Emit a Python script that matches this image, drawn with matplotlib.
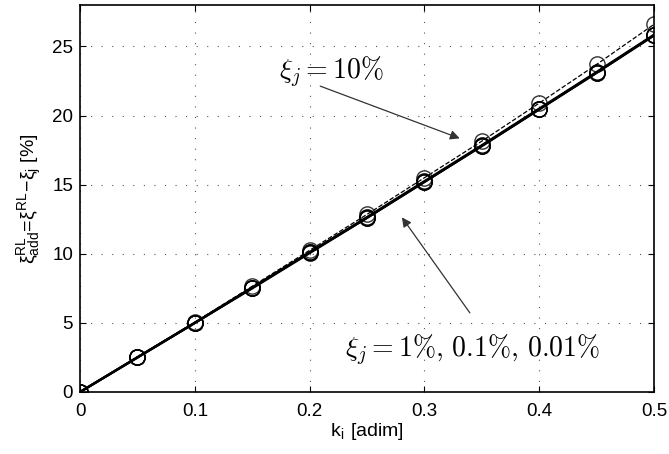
import numpy as np
import matplotlib
matplotlib.use("Agg")
import matplotlib.pyplot as plt

plt.rcParams["font.family"] = ["Liberation Sans", "DejaVu Sans"]
plt.rcParams["mathtext.fontset"] = "cm"

ki = [0, 0.05, 0.1, 0.15, 0.2, 0.25, 0.3, 0.35, 0.4, 0.45, 0.5]
xi_10 = [0, 2.55, 5.05, 7.65, 10.25, 12.85, 15.5, 18.15, 20.9, 23.7, 26.6]
xi_1 = [0, 2.5, 5.0, 7.55, 10.1, 12.65, 15.25, 17.85, 20.5, 23.15, 25.85]
xi_01 = [0, 2.5, 5.0, 7.55, 10.1, 12.6, 15.2, 17.8, 20.45, 23.1, 25.8]
xi_001 = [0, 2.5, 5.0, 7.5, 10.05, 12.6, 15.2, 17.8, 20.45, 23.1, 25.8]

fig = plt.figure(figsize=(6.69, 4.54), dpi=100)
ax = fig.add_axes([0.1196, 0.1366, 0.858, 0.8524])

ax.plot(ki, xi_10, "k--", lw=0.9, marker="o", ms=11, mfc="none", mec="#333333", mew=1.0)
for s in [xi_1, xi_01, xi_001]:
    ax.plot(ki, s, "k-", lw=1.7, marker="o", ms=11, mfc="none", mec="k", mew=1.0)

ax.set_xlim(0, 0.5)
ax.set_ylim(0, 28)
ax.set_xticks([0, 0.1, 0.2, 0.3, 0.4, 0.5])
ax.set_xticklabels(["0", "0.1", "0.2", "0.3", "0.4", "0.5"])
ax.set_yticks([0, 5, 10, 15, 20, 25])
ax.grid(True, color="#555555", ls=(0, (1, 8.5)), lw=0.8)
ax.tick_params(direction="in", top=True, right=True, labelsize=13.5, length=4, pad=8)
ax.tick_params(axis="y", pad=5)
for sp in ax.spines.values():
    sp.set_linewidth(1.2)

ax.set_xlabel("k$_\\mathregular{i}$ [adim]", fontsize=14, labelpad=1)
ax.set_ylabel("$\\mathregular{\\xi_{add}^{RL}\\!=\\!\\xi^{RL}\\!-\\!\\xi_j}$ [%]", fontsize=14, labelpad=6)

ax.annotate("", xy=(0.333, 18.28), xytext=(0.207, 22.2),
            arrowprops=dict(arrowstyle="-|>", color="#333333", lw=0.9, mutation_scale=14))
ax.text(0.264, 23.1, "$\\xi_j = 10\\%$", fontsize=20, ha="right", va="center")

ax.annotate("", xy=(0.279, 12.8), xytext=(0.341, 5.56),
            arrowprops=dict(arrowstyle="-|>", color="#333333", lw=0.9, mutation_scale=14))
ax.text(0.231, 3.0, "$\\xi_j = 1\\%,\\,0.1\\%,\\,0.01\\%$", fontsize=20, va="center")

fig.savefig("out.png", dpi=100)
